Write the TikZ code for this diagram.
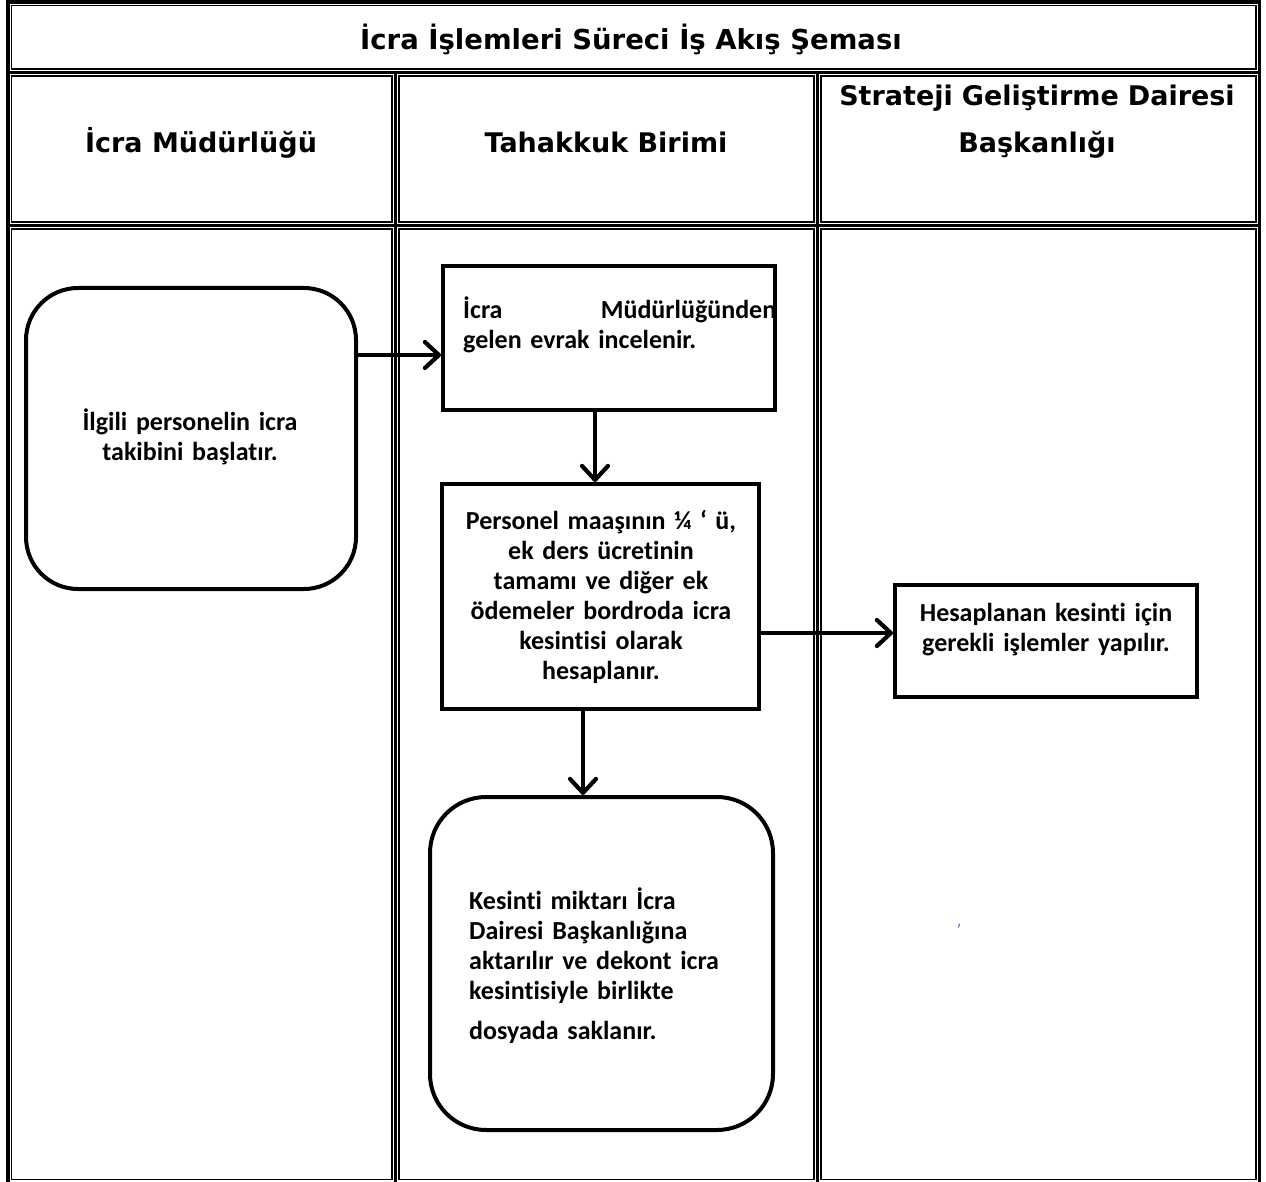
\documentclass[tikz,border=0pt]{standalone}
\usepackage{fontspec}
\setmainfont{Carlito}[Ligatures={NoCommon}]
\newfontfamily\hdfont{DejaVu Sans}
\usetikzlibrary{arrows.meta,calc}
\definecolor{markblue}{RGB}{60,110,200}
\tikzset{
  gridthick/.style={line width=3.8pt},
  gridthin/.style={line width=1.4pt},
  hd/.style={font=\hdfont\bfseries\fontsize{27}{47}\selectfont, inner sep=0pt},
  bx/.style={font=\bfseries\fontsize{26}{30}\selectfont, inner sep=0pt},
  stepbox/.style={draw, line width=4pt, inner sep=0pt},
  roundbox/.style={draw, line width=4pt, inner sep=0pt, rounded corners=52pt},
  arr/.style={line width=4.2pt, -{Straight Barb[length=14pt,width=26pt,round]}}
}
\begin{document}
\begin{tikzpicture}[x=1pt,y=1pt]
\useasboundingbox (0,0) rectangle (1266,-1182);
% table grid (thick lines)
\draw[gridthick] (8,-2) rectangle (1259.5,-1184);
\draw[gridthick] (8,-72.5) -- (1259.5,-72.5);
\draw[gridthick] (8,-225.5) -- (1259.5,-225.5);
\draw[gridthick] (395.5,-72.5) -- (395.5,-1184);
\draw[gridthick] (817.5,-72.5) -- (817.5,-1184);
% inner thin cell borders
\draw[gridthin] (11.5,-5.5) rectangle (1256,-69);
\draw[gridthin] (11.5,-76) rectangle (392,-222);
\draw[gridthin] (399,-76) rectangle (814,-222);
\draw[gridthin] (821,-76) rectangle (1256,-222);
\draw[gridthin] (11.5,-229) rectangle (392,-1179.5);
\draw[gridthin] (399,-229) rectangle (814,-1179.5);
\draw[gridthin] (821,-229) rectangle (1256,-1179.5);
% headings
\node[hd, anchor=base, font=\hdfont\bfseries\fontsize{27.5}{47}\selectfont] (title) at (631,-50) {İcra İşlemleri Süreci İş Akış Şeması};
\node[hd, anchor=base] (h1) at (201,-153) {İcra Müdürlüğü};
\node[hd, anchor=base] (h2) at (606,-153) {Tahakkuk Birimi};
\node[hd, anchor=base, align=center, text width=430pt] (h3) at (1037,-106) {Strateji Geliştirme Dairesi\\Başkanlığı};
% flow boxes
\node[roundbox, minimum width=330pt, minimum height=301pt] (A) at (191,-438.5) {};
\node[stepbox, minimum width=332pt, minimum height=144pt] (B) at (609,-338) {};
\node[stepbox, minimum width=317pt, minimum height=225pt] (C) at (600.5,-596.5) {};
\node[stepbox, minimum width=302pt, minimum height=112pt] (D) at (1046,-641) {};
\node[roundbox, minimum width=343pt, minimum height=333pt, rounded corners=56pt] (E) at (601.5,-963.5) {};
% box texts
\node[bx, anchor=base, align=center, text width=300pt] (tA) at (190,-430) {İlgili personelin icra\\takibini başlatır.};
\node[bx, anchor=base west, align=left, text width=313pt] (tB) at (463,-319) {İcra\hfill Müdürlüğünden\\gelen evrak incelenir.};
\node[bx, anchor=base, align=center, text width=320pt] (tC) at (601,-529) {Personel maaşının ¼ ‘ ü,\\ek ders ücretinin\\tamamı ve diğer ek\\ödemeler bordroda icra\\kesintisi olarak\\hesaplanır.};
\node[bx, anchor=base, align=center, text width=300pt] (tD) at (1046,-621) {Hesaplanan kesinti için\\gerekli işlemler yapılır.};
\node[bx, anchor=base west, align=left, text width=300pt] (tE) at (469,-909) {Kesinti miktarı İcra\\Dairesi Başkanlığına\\aktarılır ve dekont icra\\kesintisiyle birlikte\\[10pt]dosyada saklanır.};
\node[text=markblue, font=\itshape\fontsize{18}{18}\selectfont, inner sep=0pt] (mark) at (958,-930) {'};
% connectors
\coordinate (Bin) at ([yshift=-17pt]B.west);
\draw[arr] (A.east |- Bin) -- (Bin);
\coordinate (Bout) at ([xshift=-14pt]B.south);
\draw[arr] (Bout) -- (C.north -| Bout);
\coordinate (Cout) at ([xshift=-17.5pt]C.south);
\draw[arr] (Cout) -- (E.north -| Cout);
\coordinate (Cright) at ([yshift=-36.5pt]C.east);
\draw[arr] (Cright) -- (D.west |- Cright);
\end{tikzpicture}
\end{document}
